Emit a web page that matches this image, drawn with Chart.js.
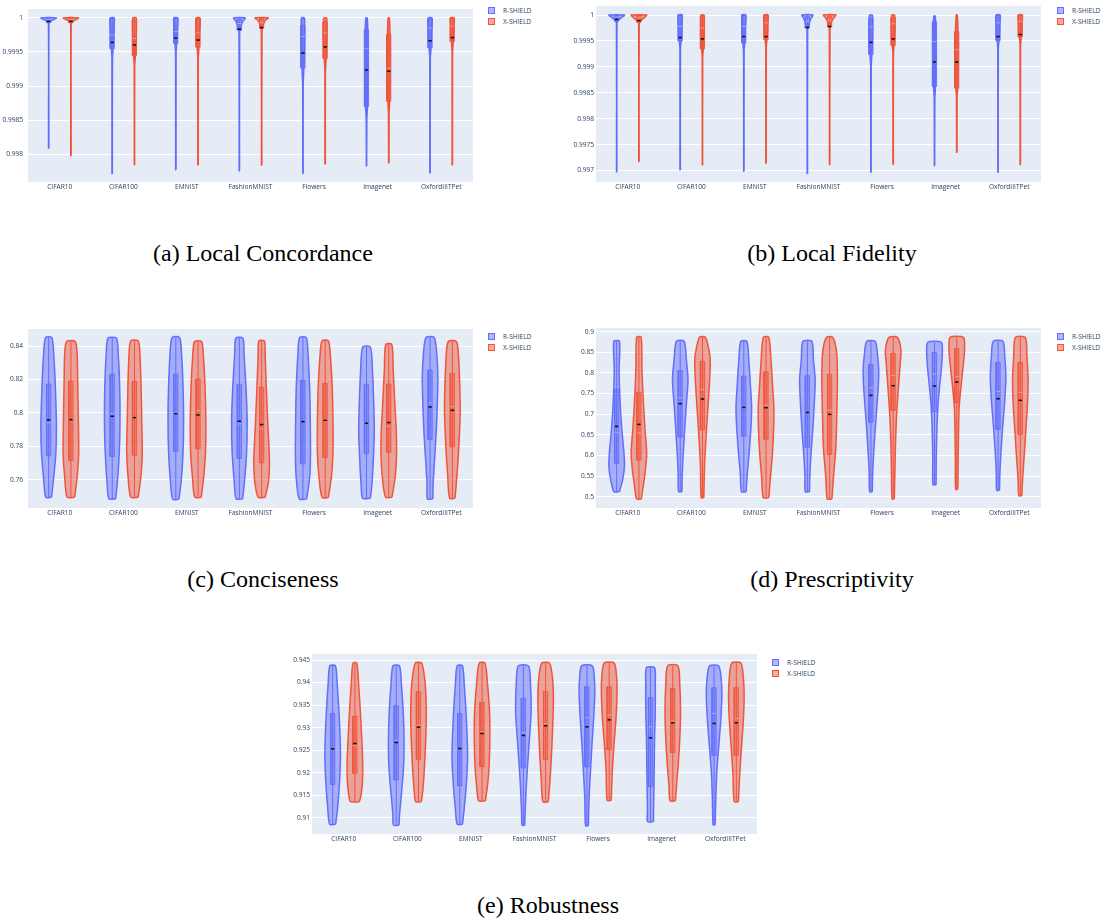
<!DOCTYPE html>
<html>
<head>
<meta charset="utf-8">
<script src="https://cdn.jsdelivr.net/npm/chart.js@4.4.1/dist/chart.umd.min.js"></script>
<style>
  html, body { margin: 0; padding: 0; background: #fff; }
  body { position: relative; width: 1106px; height: 922px; overflow: hidden; }
  canvas { position: absolute; }
  .legend { position: absolute; font: 6.6px "Open Sans", sans-serif; color: #2a3f5f; }
  .legend div { position: relative; height: 11px; line-height: 11px; padding-left: 15px; white-space: nowrap; }
  .legend span { position: absolute; left: 0; top: 1.5px; width: 5px; height: 5px; border: 1.5px solid; }
  .caption { position: absolute; width: 400px; font: 24px "Liberation Serif", "Times New Roman", serif; line-height: 24px; text-align: center; color: #000; white-space: nowrap; }
</style>
</head>
<body>
<canvas id="chartConcordance" width="480" height="200" style="left:0;top:0"></canvas>
<canvas id="chartFidelity" width="490" height="200" style="left:555px;top:0"></canvas>
<canvas id="chartConciseness" width="480" height="210" style="left:0;top:320px"></canvas>
<canvas id="chartPrescriptivity" width="490" height="210" style="left:555px;top:320px"></canvas>
<canvas id="chartRobustness" width="481" height="211" style="left:280px;top:645px"></canvas>

<div class="legend" style="left:488px;top:5px"></div>
<div class="legend" style="left:1057px;top:5px"></div>
<div class="legend" style="left:488px;top:331px"></div>
<div class="legend" style="left:1057px;top:331px"></div>
<div class="legend" style="left:772px;top:657px"></div>

<div class="caption" style="left:63px;top:241px">(a) Local Concordance</div>
<div class="caption" style="left:632px;top:241px">(b) Local Fidelity</div>
<div class="caption" style="left:63px;top:567px">(c) Conciseness</div>
<div class="caption" style="left:632px;top:567px">(d) Prescriptivity</div>
<div class="caption" style="left:348px;top:893px">(e) Robustness</div>

<script>
const CATEGORIES = ["CIFAR10", "CIFAR100", "EMNIST", "FashionMNIST", "Flowers", "Imagenet", "OxfordIIITPet"];
const SERIES = ["R-SHIELD", "X-SHIELD"];
const SERIES_RGB = ["99, 110, 250", "239, 85, 59"];

// violin shapes: [value, relative half-width] from bottom to top
// boxes: [q1, median, q3]

// (a) Local Concordance
const CONC_R_SHAPES = [
  [[0.998084, 0.02], [0.99992, 0.03], [0.99995, 0.25], [0.99998, 0.7], [1.0, 1.0]],
  [[0.997716, 0.02], [0.9994, 0.03], [0.99955, 0.12], [0.9998, 0.2], [1.0, 0.25]],
  [[0.997769, 0.02], [0.9995, 0.03], [0.99963, 0.12], [0.99985, 0.2], [1.0, 0.25]],
  [[0.99775, 0.02], [0.9998, 0.04], [0.99988, 0.2], [0.99995, 0.45], [1.0, 0.75]],
  [[0.997716, 0.02], [0.999, 0.03], [0.99926, 0.12], [0.9996, 0.2], [0.9999, 0.22], [1.0, 0.18]],
  [[0.997825, 0.02], [0.9985, 0.04], [0.9987, 0.12], [0.9995, 0.18], [0.9999, 0.15], [1.0, 0.08]],
  [[0.997722, 0.02], [0.9994, 0.03], [0.99956, 0.12], [0.9998, 0.2], [1.0, 0.25]],
];
const CONC_R_BOXES = [
  [0.99993, 0.99998, 1.0], [0.99955, 0.99975, 1.0], [0.99963, 0.9998, 1.0], [0.99982, 0.99992, 0.99998],
  [0.999264, 0.999726, 0.999891], [0.998698, 0.999547, 0.99983], [0.999561, 0.99985, 0.99998],
];
const CONC_R_MEANS = [0.99995, 0.99964, 0.999703, 0.999834, 0.999485, 0.999236, 0.999665];
const CONC_X_SHAPES = [
  [[0.997977, 0.02], [0.99992, 0.03], [0.99995, 0.25], [0.99998, 0.7], [1.0, 1.0]],
  [[0.997839, 0.02], [0.9993, 0.03], [0.99945, 0.12], [0.9997, 0.2], [1.0, 0.22]],
  [[0.997839, 0.02], [0.9994, 0.03], [0.99957, 0.12], [0.9998, 0.2], [1.0, 0.25]],
  [[0.997835, 0.02], [0.99982, 0.04], [0.9999, 0.2], [0.99996, 0.45], [1.0, 0.85]],
  [[0.997853, 0.02], [0.9992, 0.03], [0.9994, 0.12], [0.9997, 0.2], [0.99995, 0.22], [1.0, 0.18]],
  [[0.997868, 0.02], [0.9986, 0.04], [0.99878, 0.12], [0.9993, 0.18], [0.9998, 0.15], [1.0, 0.08]],
  [[0.997839, 0.02], [0.9995, 0.03], [0.99965, 0.12], [0.9999, 0.2], [1.0, 0.25]],
];
const CONC_X_BOXES = [
  [0.99993, 0.99998, 1.0], [0.99945, 0.9997, 0.99996], [0.99957, 0.99978, 0.99999], [0.99985, 0.99993, 0.99999],
  [0.999406, 0.99978, 0.999943], [0.998777, 0.999264, 0.99976], [0.999655, 0.99988, 1.0],
];
const CONC_X_MEANS = [0.99995, 0.999604, 0.999675, 0.999858, 0.999575, 0.999216, 0.999711];
const CONC_TICKS = [0.998, 0.9985, 0.999, 0.9995, 1];
const CONC_RANGE = [0.99759, 1.000132];

// (b) Local Fidelity
const FID_R_SHAPES = [
  [[0.996974, 0.02], [0.99985, 0.03], [0.99991, 0.25], [0.99996, 0.7], [1.0, 1.0]],
  [[0.997011, 0.02], [0.99935, 0.03], [0.9995, 0.12], [0.9998, 0.2], [1.0, 0.25]],
  [[0.996987, 0.02], [0.9993, 0.03], [0.99946, 0.12], [0.9998, 0.2], [1.0, 0.25]],
  [[0.996943, 0.02], [0.99972, 0.04], [0.99982, 0.2], [0.99993, 0.45], [1.0, 0.7]],
  [[0.996968, 0.02], [0.999, 0.03], [0.99924, 0.12], [0.9996, 0.2], [0.99995, 0.22], [1.0, 0.18]],
  [[0.997094, 0.02], [0.9984, 0.04], [0.99862, 0.12], [0.9994, 0.18], [0.99985, 0.15], [0.99998, 0.08]],
  [[0.996968, 0.02], [0.99935, 0.03], [0.99951, 0.12], [0.9998, 0.2], [1.0, 0.25]],
];
const FID_R_BOXES = [
  [0.99988, 0.99996, 1.0], [0.999502, 0.99978, 1.0], [0.999464, 0.99978, 1.0], [0.99975, 0.99988, 0.99997],
  [0.999238, 0.999774, 0.99993], [0.998623, 0.99949, 0.999868], [0.999509, 0.99985, 1.0],
];
const FID_R_MEANS = [0.999917, 0.999566, 0.999585, 0.99976, 0.999472, 0.999094, 0.999585];
const FID_X_SHAPES = [
  [[0.997175, 0.02], [0.99983, 0.03], [0.99989, 0.25], [0.99995, 0.7], [1.0, 1.0]],
  [[0.997106, 0.02], [0.9992, 0.03], [0.99935, 0.12], [0.9997, 0.2], [0.99997, 0.22], [1.0, 0.18]],
  [[0.997143, 0.02], [0.99938, 0.03], [0.99953, 0.12], [0.9998, 0.2], [1.0, 0.25]],
  [[0.997113, 0.02], [0.99974, 0.04], [0.99985, 0.2], [0.99994, 0.5], [1.0, 0.8]],
  [[0.997119, 0.02], [0.99925, 0.03], [0.99942, 0.12], [0.9997, 0.2], [0.99995, 0.22], [1.0, 0.18]],
  [[0.997351, 0.02], [0.99845, 0.04], [0.99859, 0.12], [0.9993, 0.18], [0.99975, 0.15], [1.0, 0.06]],
  [[0.997113, 0.02], [0.99942, 0.03], [0.99958, 0.12], [0.9998, 0.2], [1.0, 0.25]],
];
const FID_X_BOXES = [
  [0.99986, 0.99995, 1.0], [0.999351, 0.99975, 0.999974], [0.999528, 0.99985, 1.0], [0.99977, 0.9999, 0.99998],
  [0.999415, 0.99983, 0.999949], [0.99859, 0.999332, 0.999679], [0.999577, 0.99988, 1.0],
];
const FID_X_MEANS = [0.999892, 0.99954, 0.999585, 0.999779, 0.99954, 0.999094, 0.999623];
const FID_TICKS = [0.997, 0.9975, 0.998, 0.9985, 0.999, 0.9995, 1];
const FID_RANGE = [0.99678, 1.000175];

// (c) Conciseness
const CONCISE_R_SHAPES = [
  [[0.7495, 0.37], [0.7636, 0.7], [0.7755, 0.92], [0.7914, 1], [0.8054, 0.93], [0.8193, 0.83], [0.8352, 0.65], [0.8452, 0.4]],
  [[0.7485, 0.43], [0.7576, 0.65], [0.7696, 0.83], [0.7855, 0.97], [0.8034, 1], [0.8213, 0.92], [0.8352, 0.77], [0.8448, 0.55]],
  [[0.7483, 0.4], [0.7596, 0.7], [0.7755, 0.92], [0.7954, 1], [0.8153, 0.93], [0.8352, 0.74], [0.8452, 0.48]],
  [[0.7485, 0.42], [0.7596, 0.67], [0.7755, 0.92], [0.7954, 1], [0.8153, 0.85], [0.8352, 0.6], [0.8448, 0.45]],
  [[0.7485, 0.48], [0.7616, 0.87], [0.7755, 0.97], [0.7954, 0.94], [0.8153, 0.86], [0.8352, 0.65], [0.8452, 0.43]],
  [[0.7489, 0.5], [0.7576, 0.7], [0.7715, 0.87], [0.7895, 1], [0.8054, 0.93], [0.8253, 0.76], [0.8394, 0.5]],
  [[0.7485, 0.35], [0.7576, 0.39], [0.7715, 0.57], [0.7895, 0.8], [0.8054, 0.93], [0.8213, 1], [0.8352, 0.86], [0.8452, 0.52]],
];
const CONCISE_R_BOXES = [
  [0.77433, 0.79403, 0.81731], [0.77393, 0.7995, 0.82328], [0.77692, 0.8003, 0.82328], [0.77273, 0.79343, 0.81691],
  [0.76945, 0.795, 0.8197], [0.77552, 0.794, 0.81691], [0.78408, 0.806, 0.82567],
];
const CONCISE_R_MEANS = [0.79582, 0.79801, 0.7996, 0.79502, 0.79482, 0.79383, 0.80358];
const CONCISE_X_SHAPES = [
  [[0.7495, 0.48], [0.7616, 0.8], [0.7755, 1], [0.7954, 0.96], [0.8193, 0.87], [0.8352, 0.8], [0.8428, 0.55]],
  [[0.7495, 0.48], [0.7616, 0.82], [0.7755, 1], [0.7954, 0.93], [0.8153, 0.85], [0.8352, 0.7], [0.8432, 0.48]],
  [[0.7495, 0.42], [0.7616, 0.72], [0.7755, 0.95], [0.7954, 1], [0.8153, 0.9], [0.8352, 0.67], [0.8428, 0.45]],
  [[0.7495, 0.45], [0.7576, 0.85], [0.7676, 1], [0.7755, 0.98], [0.7954, 0.78], [0.8153, 0.6], [0.8352, 0.45], [0.8432, 0.35]],
  [[0.7493, 0.4], [0.7616, 0.8], [0.7755, 1], [0.7954, 1], [0.8153, 0.9], [0.8352, 0.65], [0.8432, 0.41]],
  [[0.7495, 0.41], [0.7616, 0.83], [0.7755, 1], [0.7895, 0.96], [0.8054, 0.78], [0.8253, 0.57], [0.841, 0.39]],
  [[0.7489, 0.35], [0.7636, 0.61], [0.7795, 0.83], [0.7994, 1], [0.8153, 0.96], [0.8352, 0.78], [0.8428, 0.52]],
];
const CONCISE_X_BOXES = [
  [0.77154, 0.7962, 0.8191], [0.77473, 0.7975, 0.8189], [0.77851, 0.80139, 0.8203], [0.77015, 0.7904, 0.81552],
  [0.77333, 0.7958, 0.81771], [0.77632, 0.792, 0.81731], [0.7797, 0.80378, 0.82368],
];
const CONCISE_X_MEANS = [0.79602, 0.79721, 0.7988, 0.79303, 0.79562, 0.79423, 0.80159];
const CONCISE_TICKS = [0.76, 0.78, 0.8, 0.82, 0.84];
const CONCISE_RANGE = [0.74304, 0.85033];

// (d) Prescriptivity
const PRESC_R_SHAPES = [
  [[0.5121, 0.35], [0.5404, 0.76], [0.5728, 1], [0.6051, 0.94], [0.6616, 0.67], [0.7263, 0.45], [0.8071, 0.31], [0.8766, 0.36]],
  [[0.5121, 0.22], [0.5566, 0.26], [0.6051, 0.39], [0.6616, 0.57], [0.7182, 0.76], [0.7828, 1], [0.8313, 0.79], [0.8766, 0.5]],
  [[0.5121, 0.3], [0.5566, 0.45], [0.6051, 0.68], [0.6697, 0.92], [0.7182, 1], [0.7667, 0.86], [0.8313, 0.64], [0.8766, 0.39]],
  [[0.5121, 0.27], [0.5485, 0.31], [0.6051, 0.47], [0.6616, 0.69], [0.7263, 0.89], [0.7828, 1], [0.8313, 0.78], [0.8766, 0.58]],
  [[0.5121, 0.17], [0.5566, 0.22], [0.6051, 0.35], [0.6616, 0.54], [0.7182, 0.76], [0.7667, 0.94], [0.8071, 1], [0.8475, 0.83], [0.8766, 0.54]],
  [[0.5291, 0.2], [0.5889, 0.22], [0.6616, 0.3], [0.7182, 0.43], [0.7667, 0.65], [0.8071, 0.87], [0.8475, 1], [0.8741, 0.87]],
  [[0.5154, 0.18], [0.5566, 0.23], [0.6051, 0.36], [0.6697, 0.59], [0.7344, 0.86], [0.7909, 1], [0.8394, 0.86], [0.8766, 0.63]],
];
const PRESC_R_BOXES = [
  [0.58084, 0.65598, 0.76022], [0.64467, 0.74, 0.80546], [0.64629, 0.7175, 0.79254], [0.61962, 0.705, 0.79334],
  [0.68022, 0.76426, 0.82082], [0.70689, 0.79738, 0.8499], [0.66326, 0.75537, 0.82566],
];
const PRESC_R_MEANS = [0.67053, 0.72547, 0.71658, 0.70446, 0.74567, 0.7683, 0.73759];
const PRESC_X_SHAPES = [
  [[0.4944, 0.3], [0.5243, 0.55], [0.5647, 0.84], [0.6051, 1], [0.6616, 0.79], [0.7263, 0.58], [0.8071, 0.39], [0.8863, 0.29]],
  [[0.4976, 0.17], [0.5728, 0.26], [0.6374, 0.43], [0.702, 0.65], [0.7667, 0.87], [0.8232, 1], [0.8475, 0.91], [0.8863, 0.39]],
  [[0.4976, 0.35], [0.5485, 0.57], [0.6051, 0.82], [0.6697, 0.98], [0.7182, 1], [0.7667, 0.84], [0.8313, 0.63], [0.8863, 0.35]],
  [[0.4944, 0.3], [0.55, 0.5], [0.62, 0.8], [0.7, 0.92], [0.78, 1], [0.85, 0.9], [0.8863, 0.4]],
  [[0.4944, 0.14], [0.5728, 0.23], [0.6374, 0.31], [0.702, 0.45], [0.7667, 0.68], [0.8232, 0.9], [0.8556, 1], [0.8863, 0.54]],
  [[0.5178, 0.14], [0.5889, 0.18], [0.6616, 0.23], [0.7182, 0.31], [0.7667, 0.54], [0.8232, 0.86], [0.8556, 1], [0.8863, 0.86]],
  [[0.5025, 0.19], [0.5485, 0.31], [0.6051, 0.52], [0.6616, 0.71], [0.7182, 0.9], [0.7828, 1], [0.8394, 0.85], [0.8863, 0.64]],
];
const PRESC_X_BOXES = [
  [0.58892, 0.655, 0.75294], [0.66164, 0.76022, 0.82809], [0.63902, 0.72224, 0.80304], [0.60266, 0.71011, 0.79657],
  [0.70931, 0.79415, 0.84748], [0.7279, 0.79092, 0.8596], [0.65114, 0.75294, 0.82566],
];
const PRESC_X_MEANS = [0.67538, 0.73678, 0.71578, 0.69962, 0.7691, 0.77799, 0.73355];
const PRESC_TICKS = [0.5, 0.55, 0.6, 0.65, 0.7, 0.75, 0.8, 0.85, 0.9];
const PRESC_RANGE = [0.4726, 0.909];

// (e) Robustness
const ROBUST_R_SHAPES = [
  [[0.9086, 0.38], [0.9121, 0.63], [0.9173, 0.86], [0.9232, 1], [0.9276, 0.96], [0.9335, 0.81], [0.9395, 0.59], [0.9437, 0.36]],
  [[0.9084, 0.36], [0.9106, 0.42], [0.9158, 0.69], [0.9217, 0.95], [0.9276, 1], [0.9335, 0.9], [0.9395, 0.67], [0.9437, 0.42]],
  [[0.9086, 0.34], [0.9121, 0.57], [0.9173, 0.83], [0.9232, 1], [0.9276, 0.95], [0.9335, 0.8], [0.9395, 0.57], [0.9437, 0.34]],
  [[0.9084, 0.17], [0.9106, 0.22], [0.9158, 0.34], [0.9217, 0.54], [0.9276, 0.78], [0.9335, 1], [0.9395, 0.92], [0.9437, 0.66]],
  [[0.9083, 0.18], [0.9143, 0.27], [0.9202, 0.45], [0.9261, 0.64], [0.932, 0.86], [0.9372, 1], [0.9409, 0.95], [0.9437, 0.68]],
  [[0.9092, 0.39], [0.9114, 0.39], [0.9158, 0.43], [0.9217, 0.48], [0.9276, 0.52], [0.9335, 0.61], [0.9395, 0.61], [0.9433, 0.52]],
  [[0.9085, 0.13], [0.9143, 0.22], [0.9202, 0.35], [0.9261, 0.61], [0.932, 0.87], [0.9372, 1], [0.9409, 0.91], [0.9437, 0.57]],
];
const ROBUST_R_BOXES = [
  [0.9174, 0.9254, 0.93316], [0.91843, 0.92724, 0.93486], [0.9171, 0.9254, 0.93316], [0.9211, 0.92894, 0.93649],
  [0.92132, 0.9322, 0.93908], [0.91695, 0.9302, 0.93664], [0.92384, 0.93316, 0.93886],
];
const ROBUST_R_MEANS = [0.92532, 0.92672, 0.92539, 0.92828, 0.9302, 0.92776, 0.93094];
const ROBUST_X_SHAPES = [
  [[0.9136, 0.57], [0.915, 0.78], [0.918, 0.97], [0.9224, 1], [0.9276, 0.88], [0.9335, 0.7], [0.9395, 0.48], [0.9443, 0.25]],
  [[0.9136, 0.36], [0.9158, 0.54], [0.9202, 0.73], [0.9261, 0.9], [0.932, 1], [0.9372, 0.95], [0.9409, 0.79], [0.9443, 0.41]],
  [[0.9138, 0.43], [0.9173, 0.71], [0.9217, 0.91], [0.9276, 1], [0.9335, 0.96], [0.9395, 0.71], [0.9443, 0.38]],
  [[0.9136, 0.35], [0.918, 0.55], [0.924, 0.75], [0.93, 0.9], [0.936, 1], [0.941, 0.88], [0.9443, 0.5]],
  [[0.9139, 0.26], [0.9202, 0.39], [0.9261, 0.61], [0.932, 0.87], [0.9372, 1], [0.9409, 0.96], [0.9443, 0.65]],
  [[0.9138, 0.34], [0.9173, 0.49], [0.9217, 0.7], [0.9276, 0.9], [0.9335, 1], [0.9395, 0.9], [0.9437, 0.66]],
  [[0.9136, 0.27], [0.9202, 0.45], [0.9261, 0.68], [0.932, 0.91], [0.9372, 1], [0.9409, 0.91], [0.9443, 0.59]],
];
const ROBUST_X_BOXES = [
  [0.91991, 0.926, 0.93257], [0.92295, 0.9305, 0.93797], [0.92139, 0.92909, 0.9356], [0.92295, 0.93087, 0.93797],
  [0.92509, 0.93279, 0.93908], [0.9245, 0.93146, 0.93871], [0.92391, 0.93205, 0.93886],
];
const ROBUST_X_MEANS = [0.9265, 0.93013, 0.92872, 0.93042, 0.93175, 0.93109, 0.93109];
const ROBUST_TICKS = [0.91, 0.915, 0.92, 0.925, 0.93, 0.935, 0.94, 0.945];
const ROBUST_RANGE = [0.90645, 0.94633];

// geometry of a violin group, in category units
const VIOLIN_OFFSET = 0.175;
const VIOLIN_HALF = 0.1225;
const BOX_HALF = 0.033;
const MEAN_HALF = 0.027;

const TICK_FONT = { family: '"Open Sans", sans-serif', size: 6.6 };
const TICK_COLOR = "#2a3f5f";

function rgba(rgb, a) {
  return `rgba(${rgb}, ${a})`;
}

function violinDatasets(shapes, boxes, means, s) {
  const rgb = SERIES_RGB[s];
  const sets = [];
  shapes.forEach((shape, i) => {
    const c = i + (s === 0 ? -VIOLIN_OFFSET : VIOLIN_OFFSET);
    const right = shape.map(([y, w]) => ({ x: c + w * VIOLIN_HALF, y }));
    const left = shape.slice().reverse().map(([y, w]) => ({ x: c - w * VIOLIN_HALF, y }));
    sets.push({
      label: SERIES[s],
      data: right.concat(left, [right[0]]),
      fill: "shape",
      backgroundColor: rgba(rgb, 0.5),
      borderColor: rgba(rgb, 1),
      borderWidth: 1.5,
      tension: 0.25,
      order: 4,
    });

    // whisker, min to max
    const lo = shape[0][0];
    const hi = shape[shape.length - 1][0];
    sets.push({
      data: [{ x: c, y: lo }, { x: c, y: hi }],
      borderColor: rgba(rgb, 1),
      borderWidth: 1,
      order: 3,
    });

    const [q1, med, q3] = boxes[i];
    sets.push({
      data: [
        { x: c - BOX_HALF, y: q1 }, { x: c + BOX_HALF, y: q1 },
        { x: c + BOX_HALF, y: q3 }, { x: c - BOX_HALF, y: q3 },
        { x: c - BOX_HALF, y: q1 },
      ],
      fill: "shape",
      backgroundColor: rgba(rgb, 0.5),
      borderColor: rgba(rgb, 0.85),
      borderWidth: 1,
      order: 2,
    });
    sets.push({
      data: [{ x: c - BOX_HALF, y: med }, { x: c + BOX_HALF, y: med }],
      borderColor: "rgba(255, 255, 255, 0.35)",
      borderWidth: 1,
      order: 1,
    });
    sets.push({
      data: [{ x: c - MEAN_HALF, y: means[i] }, { x: c + MEAN_HALF, y: means[i] }],
      borderColor: "#111",
      borderWidth: 1.5,
      order: 0,
    });
  });
  return sets;
}

const plotBackground = {
  id: "plotBackground",
  beforeDraw(chart) {
    const { ctx, chartArea: a } = chart;
    ctx.save();
    ctx.fillStyle = "#E5ECF6";
    ctx.fillRect(a.left, a.top, a.right - a.left, a.bottom - a.top);
    ctx.restore();
  },
};

function violinChart(canvasId, p) {
  const canvas = document.getElementById(canvasId);
  return new Chart(canvas, {
    type: "line",
    data: {
      datasets: violinDatasets(p.rShapes, p.rBoxes, p.rMeans, 0)
        .concat(violinDatasets(p.xShapes, p.xBoxes, p.xMeans, 1)),
    },
    options: {
      responsive: false,
      animation: false,
      events: [],
      layout: { padding: { top: p.padTop, right: p.padRight, left: 0, bottom: 0 } },
      elements: { point: { radius: 0 }, line: { borderCapStyle: "butt" } },
      plugins: { legend: { display: false }, tooltip: { enabled: false } },
      scales: {
        x: {
          type: "linear",
          min: -0.5,
          max: 6.5,
          grid: { display: false, drawTicks: false },
          border: { display: false },
          afterBuildTicks: (axis) => {
            axis.ticks = CATEGORIES.map((_, i) => ({ value: i }));
          },
          afterFit: (axis) => {
            axis.height = p.xHeight;
          },
          ticks: {
            callback: (v) => CATEGORIES[v],
            autoSkip: false,
            maxRotation: 0,
            padding: 1,
            font: TICK_FONT,
            color: TICK_COLOR,
          },
        },
        y: {
          type: "linear",
          min: p.range[0],
          max: p.range[1],
          grid: { color: "#ffffff", lineWidth: 1, drawTicks: false },
          border: { display: false },
          afterBuildTicks: (axis) => {
            axis.ticks = p.ticks.map((v) => ({ value: v }));
          },
          afterFit: (axis) => {
            axis.width = p.yWidth;
          },
          ticks: {
            callback: (v) => String(+v.toFixed(5)),
            padding: p.yPad,
            font: TICK_FONT,
            color: TICK_COLOR,
          },
        },
      },
    },
    plugins: [plotBackground],
  });
}

violinChart("chartConcordance", {
  rShapes: CONC_R_SHAPES, rBoxes: CONC_R_BOXES, rMeans: CONC_R_MEANS,
  xShapes: CONC_X_SHAPES, xBoxes: CONC_X_BOXES, xMeans: CONC_X_MEANS,
  ticks: CONC_TICKS, range: CONC_RANGE,
  padTop: 2, padRight: 7, yWidth: 28, xHeight: 18, yPad: 5,
});
violinChart("chartFidelity", {
  rShapes: FID_R_SHAPES, rBoxes: FID_R_BOXES, rMeans: FID_R_MEANS,
  xShapes: FID_X_SHAPES, xBoxes: FID_X_BOXES, xMeans: FID_X_MEANS,
  ticks: FID_TICKS, range: FID_RANGE,
  padTop: 2, padRight: 4, yWidth: 41, xHeight: 18, yPad: 2,
});
violinChart("chartConciseness", {
  rShapes: CONCISE_R_SHAPES, rBoxes: CONCISE_R_BOXES, rMeans: CONCISE_R_MEANS,
  xShapes: CONCISE_X_SHAPES, xBoxes: CONCISE_X_BOXES, xMeans: CONCISE_X_MEANS,
  ticks: CONCISE_TICKS, range: CONCISE_RANGE,
  padTop: 8, padRight: 7, yWidth: 28, xHeight: 22, yPad: 5,
});
violinChart("chartPrescriptivity", {
  rShapes: PRESC_R_SHAPES, rBoxes: PRESC_R_BOXES, rMeans: PRESC_R_MEANS,
  xShapes: PRESC_X_SHAPES, xBoxes: PRESC_X_BOXES, xMeans: PRESC_X_MEANS,
  ticks: PRESC_TICKS, range: PRESC_RANGE,
  padTop: 8, padRight: 4, yWidth: 41, xHeight: 22, yPad: 2,
});
violinChart("chartRobustness", {
  rShapes: ROBUST_R_SHAPES, rBoxes: ROBUST_R_BOXES, rMeans: ROBUST_R_MEANS,
  xShapes: ROBUST_X_SHAPES, xBoxes: ROBUST_X_BOXES, xMeans: ROBUST_X_MEANS,
  ticks: ROBUST_TICKS, range: ROBUST_RANGE,
  padTop: 9, padRight: 4, yWidth: 32, xHeight: 22, yPad: 2,
});

// legends, one per panel
document.querySelectorAll(".legend").forEach((el) => {
  SERIES.forEach((name, s) => {
    const item = document.createElement("div");
    const swatch = document.createElement("span");
    swatch.style.background = rgba(SERIES_RGB[s], 0.5);
    swatch.style.borderColor = rgba(SERIES_RGB[s], 1);
    item.appendChild(swatch);
    item.appendChild(document.createTextNode(name));
    el.appendChild(item);
  });
});
</script>
</body>
</html>
